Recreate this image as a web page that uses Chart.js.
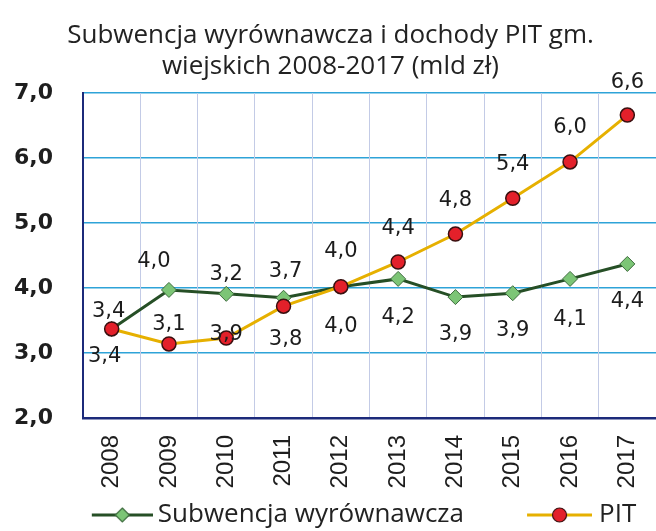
<!DOCTYPE html>
<html>
<head>
<meta charset="utf-8">
<script src="https://cdn.jsdelivr.net/npm/chart.js@4"></script>
<style>
  html, body { margin: 0; padding: 0; background: #fff; }
  #wrap { width: 656px; height: 531px; }
</style>
</head>
<body>
<div id="wrap"><canvas id="chart" width="656" height="531"></canvas></div>
<script>
// data
var years = ['2008', '2009', '2010', '2011', '2012', '2013', '2014', '2015', '2016', '2017'];
var subwencja = [3.37, 3.97, 3.91, 3.85, 4.02, 4.14, 3.86, 3.92, 4.14, 4.37];
var pit = [3.37, 3.14, 3.23, 3.72, 4.02, 4.40, 4.83, 5.38, 5.94, 6.66];
// labels as printed on the original (some are swapped there)
var subwencjaLabels = ['3,4', '4,0', '3,2', '3,7', '4,0', '4,2', '3,9', '3,9', '4,1', '4,4'];
var pitLabels = ['3,4', '3,1', '3,9', '3,8', '4,0', '4,4', '4,8', '5,4', '6,0', '6,6'];
var yTicks = [2, 3, 4, 5, 6, 7];

// label placement relative to each point (style only)
var subwencjaOffsets = [[-7, 28], [-15, -28], [0, -19], [2, -26], [0, 40], [0, 39], [0, 37], [0, 37], [0, 41], [0, 38]];
var pitOffsets = [[-3, -17], [0, -19], [0, -4], [2, 33], [0, -35], [0, -33], [0, -34], [0, -34], [0, -34], [0, -33]];

// legend icon: line + marker, drawn inside a wider transparent canvas
// so it sits just left of the text (from, to = span right of the image centre)
function legendIcon(lineColor, markerFill, markerBorder, shape, from, to) {
    var c = document.createElement('canvas');
    c.width = to * 2; c.height = 20;
    var g = c.getContext('2d');
    var x0 = to + from, x1 = to * 2, mid = (x0 + x1) / 2;
    g.strokeStyle = lineColor;
    g.lineWidth = 3;
    g.beginPath(); g.moveTo(x0, 10); g.lineTo(x1, 10); g.stroke();
    g.fillStyle = markerFill;
    g.strokeStyle = markerBorder;
    g.lineWidth = 1.2;
    g.beginPath();
    if (shape === 'diamond') {
        g.moveTo(mid, 3); g.lineTo(mid + 7, 10); g.lineTo(mid, 17); g.lineTo(mid - 7, 10); g.closePath();
    } else {
        g.arc(mid, 10, 7, 0, Math.PI * 2);
    }
    g.fill(); g.stroke();
    return c;
}

var labelPlugin = {
    id: 'pointLabels',
    afterDatasetsDraw: function(chart) {
        var ctx = chart.ctx;
        var sets = [[0, subwencjaLabels, subwencjaOffsets], [1, pitLabels, pitOffsets]];
        ctx.save();
        ctx.font = '21px "DejaVu Sans"';
        ctx.fillStyle = '#1c1c1c';
        ctx.textAlign = 'center';
        ctx.textBaseline = 'middle';
        sets.forEach(function(s) {
            var meta = chart.getDatasetMeta(s[0]);
            meta.data.forEach(function(pt, i) {
                ctx.fillText(s[1][i], pt.x + s[2][i][0], pt.y + s[2][i][1]);
            });
        });
        ctx.restore();
    }
};

var ctx = document.getElementById('chart').getContext('2d');
new Chart(ctx, {
    type: 'line',
    data: {
        labels: years,
        datasets: [{
            label: 'Subwencja wyrównawcza',
            data: subwencja,
            borderColor: '#264f26',
            borderWidth: 3,
            backgroundColor: '#7cc576',
            pointStyle: 'rectRot',
            pointRadius: 7.5,
            pointBackgroundColor: '#7cc576',
            pointBorderColor: '#3d6b3d',
            pointBorderWidth: 1,
            order: 1
        }, {
            label: 'PIT',
            data: pit,
            borderColor: '#e6b000',
            borderWidth: 3,
            backgroundColor: '#e3202a',
            pointStyle: 'circle',
            pointRadius: 7,
            pointBackgroundColor: '#e3202a',
            pointBorderColor: '#3a1010',
            pointBorderWidth: 1.5,
            order: 0
        }]
    },
    options: {
        responsive: false,
        animation: false,
        layout: { autoPadding: false, padding: { left: 0, right: -5, top: 0, bottom: 0 } },
        scales: {
            y: {
                min: 2,
                max: 7,
                afterBuildTicks: function(scale) {
                    scale.ticks = yTicks.map(function(v) { return { value: v }; });
                },
                afterFit: function(scale) { scale.width = 83; },
                ticks: {
                    padding: 30,
                    color: '#1e1e1e',
                    font: { family: '"DejaVu Sans"', size: 22, weight: 'bold' },
                    callback: function(v) { return v.toFixed(1).replace('.', ','); }
                },
                grid: { color: '#2ea3d8', lineWidth: 1.5, drawTicks: false },
                border: { color: '#1c2a7a', width: 2 }
            },
            x: {
                offset: true,
                afterFit: function(scale) {
                    scale.height = 82;
                    scale.paddingLeft = 0;
                    scale.paddingRight = 0;
                },
                ticks: {
                    padding: 17,
                    autoSkip: false,
                    maxRotation: 90,
                    minRotation: 90,
                    color: '#1e1e1e',
                    font: { family: '"Liberation Sans"', size: 24 }
                },
                grid: { color: '#c3cbe6', lineWidth: 1, drawTicks: false, offset: true },
                border: { color: '#1c2a7a', width: 2.5 }
            }
        },
        plugins: {
            title: {
                display: true,
                text: ['Subwencja wyrównawcza i dochody PIT gm.', 'wiejskich 2008-2017 (mld zł)'],
                color: '#222',
                font: { family: '"Open Sans"', size: 26, weight: 'normal', lineHeight: 1.2 },
                padding: { top: 20, bottom: 10.6 }
            },
            legend: {
                position: 'bottom',
                maxHeight: 31,
                labels: {
                    usePointStyle: true,
                    pointStyleWidth: 120,
                    padding: 2,
                    color: '#222',
                    font: { family: '"Open Sans"', size: 26 },
                    generateLabels: function(chart) {
                        return [{
                            text: 'Subwencja wyrównawcza',
                            pointStyle: legendIcon('#264f26', '#7cc576', '#3d6b3d', 'diamond', 7, 68),
                            fillStyle: '#7cc576', strokeStyle: '#264f26', lineWidth: 0,
                            fontColor: '#222', datasetIndex: 0, hidden: false
                        }, {
                            text: 'PIT',
                            pointStyle: legendIcon('#e6b000', '#e3202a', '#3a1010', 'circle', 1, 66),
                            fillStyle: '#e3202a', strokeStyle: '#e6b000', lineWidth: 0,
                            fontColor: '#222', datasetIndex: 1, hidden: false
                        }];
                    }
                }
            },
            tooltip: { enabled: false }
        }
    },
    plugins: [labelPlugin]
});
</script>
</body>
</html>
